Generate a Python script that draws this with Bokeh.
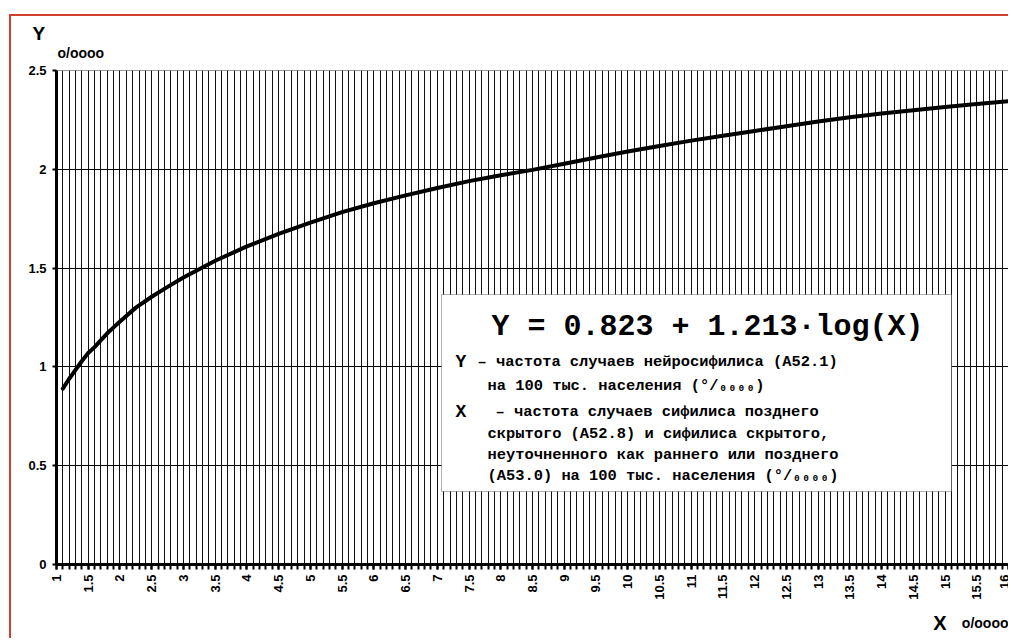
import numpy as np
from bokeh.plotting import figure
from bokeh.models import Range1d, FixedTicker, Label, BoxAnnotation, Title
from bokeh.embed import file_html
from bokeh.resources import INLINE

# ---- data ----
x_values = [1.1, 1.2, 1.3, 1.4, 1.5, 1.6, 1.7, 1.8, 1.9, 2.0, 2.25, 2.5, 2.75, 3.0,
            3.5, 4.0, 4.5, 5.0, 5.5, 6.0, 6.5, 7.0, 7.5, 8.0, 8.5, 9.0, 9.5, 10.0,
            10.5, 11.0, 11.5, 12.0, 12.5, 13.0, 13.5, 14.0, 14.5, 15.0, 15.5, 16.0]
y_values = [0.89, 0.94, 0.985, 1.03, 1.07, 1.10, 1.135, 1.17, 1.20, 1.23, 1.30, 1.355, 1.405, 1.452,
            1.537, 1.61, 1.673, 1.73, 1.783, 1.828, 1.868, 1.905, 1.94, 1.97, 1.997, 2.028, 2.06, 2.09,
            2.118, 2.145, 2.17, 2.194, 2.218, 2.242, 2.263, 2.282, 2.299, 2.315, 2.33, 2.345]

x_ticks = [1 + 0.5 * i for i in range(31)]
x_tick_labels = ["1", "1.5", "2", "2.5", "3", "3.5", "4", "4.5", "5", "5.5", "6", "6.5",
                 "7", "7.5", "8", "8.5", "9", "9.5", "10", "10.5", "11", "11.5", "12",
                 "12.5", "13", "13.5", "14", "14.5", "15", "15.5", "16"]
x_minor = [round(1 + 0.1 * i, 1) for i in range(151)]
y_ticks = [0, 0.5, 1, 1.5, 2, 2.5]
y_tick_labels = ["0", "0.5", "1", "1.5", "2", "2.5"]

equation = "Y = 0.823 + 1.213·log(X)"
legend_lines = [
    ("Y", "– частота случаев нейросифилиса (А52.1)"),
    (None, "на 100 тыс. населения (°/₀₀₀₀)"),
    ("X", "– частота случаев сифилиса позднего"),
    (None, "скрытого (А52.8) и сифилиса скрытого,"),
    (None, "неуточненного как раннего или позднего"),
    (None, "(А53.0) на 100 тыс. населения (°/₀₀₀₀)"),
]

# ---- layout (page has no margin; host offset by CSS margin) ----
HOST_X, HOST_Y, BORDER = 9, 14, 2
CX, CY = HOST_X + BORDER, HOST_Y + BORDER          # canvas origin on page
W, H = 999, 624
frame_left_page, frame_top_page, frame_bottom_page = 56, 70, 564
frame_right_page = CX + W
px_per_unit = 63.47
x_end = 1 + (frame_right_page - frame_left_page) / px_per_unit

p = figure(width=W, height=H, output_backend="svg", toolbar_location=None, title=None,
           x_range=Range1d(1, x_end), y_range=Range1d(0, 2.5),
           min_border_left=frame_left_page - CX, min_border_top=frame_top_page - CY,
           min_border_bottom=CY + H - frame_bottom_page, min_border_right=0)
p.styles = {"border-top": "%dpx solid #d0402c" % BORDER, "border-left": "%dpx solid #d0402c" % BORDER,
            "margin-top": "%dpx" % HOST_Y, "margin-left": "%dpx" % HOST_X}
p.outline_line_color = "#999999"
p.outline_line_width = 1
p.background_fill_color = "white"
p.border_fill_color = "white"

# x axis
p.xaxis.ticker = FixedTicker(ticks=x_ticks, minor_ticks=x_minor)
p.xaxis.major_label_overrides = {t: l for t, l in zip(x_ticks, x_tick_labels)}
p.xaxis.major_label_orientation = np.pi / 2
p.xaxis.major_label_text_font = "Liberation Sans"
p.xaxis.major_label_text_font_style = "bold"
p.xaxis.major_label_text_font_size = "13px"
p.xaxis.major_label_text_color = "black"
p.xaxis.major_label_standoff = 5
p.xaxis.axis_line_width = 3
p.xaxis.axis_line_color = "black"
p.xaxis.major_tick_in = 0
p.xaxis.major_tick_out = 5
p.xaxis.minor_tick_in = 0
p.xaxis.minor_tick_out = 5
p.xaxis.major_tick_line_width = 2
p.xaxis.minor_tick_line_width = 2
p.xaxis.major_tick_line_color = "black"
p.xaxis.minor_tick_line_color = "black"

# y axis
p.yaxis.ticker = FixedTicker(ticks=y_ticks)
p.yaxis.major_label_overrides = {t: l for t, l in zip(y_ticks, y_tick_labels)}
p.yaxis.major_label_text_font = "Liberation Sans"
p.yaxis.major_label_text_font_style = "bold"
p.yaxis.major_label_text_font_size = "13px"
p.yaxis.major_label_text_color = "black"
p.yaxis.major_label_standoff = 6
p.yaxis.axis_line_width = 3
p.yaxis.axis_line_color = "black"
p.yaxis.major_tick_in = 0
p.yaxis.major_tick_out = 4
p.yaxis.major_tick_line_width = 2
p.yaxis.major_tick_line_color = "black"
p.yaxis.minor_tick_line_color = None

# grids
p.xgrid.ticker = FixedTicker(ticks=x_ticks, minor_ticks=x_minor)
p.xgrid.grid_line_color = "#111111"
p.xgrid.grid_line_width = 1
p.xgrid.minor_grid_line_color = "#111111"
p.xgrid.minor_grid_line_width = 1
p.ygrid.ticker = FixedTicker(ticks=y_ticks[:-1])
p.ygrid.grid_line_color = "black"
p.ygrid.grid_line_width = 1

# curve
p.line(x_values, y_values, line_color="black", line_width=4, line_join="round", line_cap="round")

# axis captions outside the frame (titles)
p.add_layout(Title(text="o/oooo", align="left", offset=1, standoff=20,
                   text_font="Liberation Sans", text_font_size="14px", text_font_style="bold",
                   text_color="black"), "above")
p.add_layout(Title(text="Y", align="left", offset=-24, standoff=-22,
                   text_font="Liberation Sans", text_font_size="19px", text_font_style="bold",
                   text_color="black"), "above")
p.add_layout(Title(text="X", align="right", offset=frame_right_page - 946, standoff=14,
                   text_font="Liberation Sans", text_font_size="20px", text_font_style="bold",
                   text_color="black"), "below")
p.add_layout(Title(text="o/oooo", align="right", offset=frame_right_page - 1008, standoff=-52,
                   vertical_align="top",
                   text_font="Liberation Sans", text_font_size="14px", text_font_style="bold",
                   text_color="black"), "below")

# legend box (screen units relative to the frame: x from left, y up from bottom)
FB = frame_bottom_page
p.add_layout(BoxAnnotation(left=441 - frame_left_page, right=951 - frame_left_page,
                           top=FB - 294, bottom=FB - 491,
                           left_units="screen", right_units="screen",
                           top_units="screen", bottom_units="screen",
                           fill_color="white", fill_alpha=1.0, line_color="black", line_width=1,
                           level="annotation"))

def lab(page_x, page_y, text, size, font="Liberation Mono"):
    p.add_layout(Label(x=page_x - frame_left_page, y=FB - page_y, x_units="screen", y_units="screen",
                       text=text, text_font=font, text_font_size=size, text_font_style="bold",
                       text_color="black", text_align="left", text_baseline="middle"))

lab(491, 326, equation, "30px")
line_y = [361, 385, 411, 433, 454, 475]
for (head, body), yy in zip(legend_lines, line_y):
    if head is not None:
        lab(455, yy, head, "18px")
        lab(477 if head == "Y" else 495, yy, body, "15.4px")
    else:
        lab(487, yy, body, "15.4px")

open("out.html", "w").write(file_html(p, INLINE))
